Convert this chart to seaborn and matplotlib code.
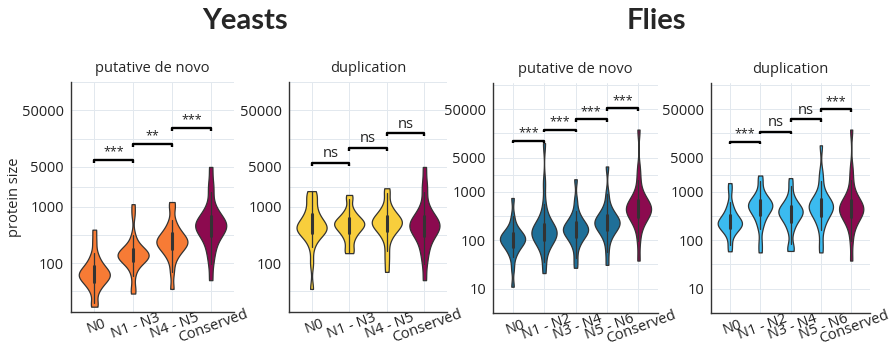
import matplotlib
matplotlib.use("Agg")
import matplotlib.pyplot as plt
import matplotlib.ticker as mticker
import pandas as pd
import seaborn as sns

# x groups
yeast_groups = ["N0", "N1 - N3", "N4 - N5", "Conserved"]
fly_groups = ["N0", "N1 - N2", "N3 - N4", "N5 - N6", "Conserved"]

# protein sizes (approximate quantiles, aa)
yeast_novo_n0 = [17, 19.5, 30, 36.6, 41.8, 46.1, 49.9, 53.3, 56.4, 59.3, 61.9,
                 64.6, 67.9, 72.1, 76.9, 83.2, 91.2, 102, 120, 151, 240, 390]
yeast_novo_n1_n3 = [29, 36, 60, 82, 94, 103, 111, 117, 122, 127, 132, 136,
                    140, 144, 150, 156, 163, 172, 185, 203, 233, 316, 720, 1100]
yeast_novo_n4_n5 = [35, 69, 109, 135, 155, 172, 187, 201, 213, 224, 235,
                    245, 258, 274, 292, 316, 347, 389, 455, 575, 955, 1200]
yeast_dup_n0 = [35, 100, 195, 263, 304, 334, 358, 378, 396, 412, 428, 441,
                462, 499, 546, 601, 676, 776, 923, 1167, 1479, 1660, 1870]
yeast_dup_n1_n3 = [150, 158, 200, 252, 295, 331, 363, 393, 419, 445, 468,
                   487, 506, 529, 555, 589, 631, 688, 774, 923, 1349, 1600]
yeast_dup_n4_n5 = [70, 110, 162, 249, 305, 348, 384, 415, 444, 469, 493, 514,
                   535, 558, 587, 621, 664, 718, 791, 904, 1104, 1698, 2100]
yeast_conserved = [50, 95, 140, 180, 226, 269, 305, 337, 367, 394, 422, 446,
                   468, 492, 522, 557, 603, 661, 741, 867, 1096, 1820, 2600, 5000]

fly_novo_n0 = [11, 26, 44, 55, 65, 72, 79, 86, 92, 97, 102,
               107, 111, 116, 123, 131, 141, 154, 175, 211, 316, 740]
fly_novo_n1_n2 = [21, 35, 59, 74, 87, 98, 107, 116, 124, 131, 138,
                  145, 152, 161, 172, 186, 204, 229, 268, 339, 562, 1500, 10000]
fly_novo_n3_n4 = [27, 42, 69, 87, 102, 115, 126, 136, 145, 154, 162,
                  170, 179, 190, 202, 219, 240, 269, 315, 398, 661, 1800]
fly_novo_n5_n6 = [31, 58, 95, 121, 141, 158, 174, 188, 200, 213, 224,
                  234, 247, 262, 279, 302, 331, 372, 435, 550, 912, 3300]
fly_dup_n0 = [59, 81, 119, 142, 159, 174, 186, 198, 207, 217, 225,
              235, 248, 265, 285, 310, 344, 390, 463, 600, 1047, 1500]
fly_dup_n1_n2 = [56, 89, 168, 225, 274, 316, 355, 391, 424, 457, 487,
                 511, 533, 561, 593, 634, 685, 757, 863, 1054, 1622, 2150]
fly_dup_n3_n4 = [60, 62, 83, 145, 188, 223, 254, 281, 305, 328, 351, 371,
                 388, 406, 429, 454, 488, 530, 587, 676, 836, 1318, 1900]
fly_dup_n5_n6 = [56, 85, 160, 215, 262, 302, 339, 374, 405, 437, 465,
                 489, 512, 540, 571, 614, 667, 740, 851, 1052, 1660, 2500, 9000]
fly_conserved = [38, 95, 167, 216, 256, 291, 322, 351, 377, 403, 426,
                 447, 470, 499, 532, 575, 631, 708, 828, 1047, 1738, 3000, 19000]

# significance brackets (height, label)
yeast_novo_brackets = [6700, 12900, 24800]
yeast_novo_labels = ["***", "**", "***"]
yeast_dup_brackets = [5900, 11000, 19500]
yeast_dup_labels = ["ns", "ns", "ns"]
fly_novo_brackets = [11100, 18900, 30700, 52000]
fly_novo_labels = ["***", "***", "***", "***"]
fly_dup_brackets = [10600, 17300, 30700, 50000]
fly_dup_labels = ["***", "ns", "ns", "***"]

yeast_ticks = [100, 1000, 5000, 50000]
fly_ticks = [10, 100, 1000, 5000, 50000]

conserved_col = "#8c0a4f"


def long_frame(groups, values):
    rows = []
    for g, v in zip(groups, values):
        rows += [(g, x) for x in v]
    return pd.DataFrame(rows, columns=["age", "size"])


sns.set_style("white")
plt.rcParams["font.family"] = ["Open Sans", "DejaVu Sans"]

W, H = 893, 352
fig = plt.figure(figsize=(W / 100, H / 100), dpi=100)

panels = [
    (yeast_groups, [yeast_novo_n0, yeast_novo_n1_n3, yeast_novo_n4_n5, yeast_conserved], "#f77b35",
     yeast_novo_brackets, yeast_novo_labels, "putative de novo", (71, 234), (82, 312), (13.7, 156000), yeast_ticks),
    (yeast_groups, [yeast_dup_n0, yeast_dup_n1_n3, yeast_dup_n4_n5, yeast_conserved], "#f8ce3c",
     yeast_dup_brackets, yeast_dup_labels, "duplication", (289, 447), (82, 312), (13.7, 156000), yeast_ticks),
    (fly_groups, [fly_novo_n0, fly_novo_n1_n2, fly_novo_n3_n4, fly_novo_n5_n6, fly_conserved], "#1f6f98",
     fly_novo_brackets, fly_novo_labels, "putative de novo", (493, 658), (83, 313), (6.4, 173000), fly_ticks),
    (fly_groups, [fly_dup_n0, fly_dup_n1_n2, fly_dup_n3_n4, fly_dup_n5_n6, fly_conserved], "#3bbbf0",
     fly_dup_brackets, fly_dup_labels, "duplication", (711, 870), (83, 313), (6.4, 173000), fly_ticks),
]

for k, (groups, vals, col, brs, labs, title, xs, ys, ylim, ticks) in enumerate(panels):
    ax = fig.add_axes([xs[0] / W, 1 - ys[1] / H, (xs[1] - xs[0]) / W, (ys[1] - ys[0]) / H])
    df = long_frame(groups, vals)
    pal = {g: col for g in groups}
    pal["Conserved"] = conserved_col
    sns.violinplot(data=df, x="age", y="size", hue="age", order=groups, hue_order=groups,
                   palette=pal, legend=False, log_scale=True, cut=0, density_norm="width",
                   width=0.8, linewidth=0.9, linecolor="#333333", bw_adjust=0.6, saturation=1,
                   inner="box", inner_kws=dict(box_width=2.2, whis_width=0.9, marker=""), ax=ax)
    n = len(groups)
    off = 0.6 if n == 4 else 0.62
    ax.set_xlim(-off, n - 1 + off)
    ax.set_ylim(*ylim)
    ax.set_yticks(ticks)
    ax.yaxis.set_major_formatter(mticker.FixedFormatter([str(t) for t in ticks]))
    minors = [(ticks[i] * ticks[i + 1]) ** 0.5 for i in range(len(ticks) - 1)]
    minors = [ticks[0] / 10 ** 0.5] + minors + [ticks[-1] * 10 ** 0.5]
    ax.set_yticks(minors, minor=True)
    ax.yaxis.set_minor_formatter(mticker.NullFormatter())
    ax.tick_params(axis="y", which="minor", length=0)
    ax.tick_params(axis="both", which="major", length=3, width=0.8, color="#333333",
                   labelsize=10.5, labelcolor="#222222", pad=2)
    ax.set_xticks(range(n))
    ax.set_xticklabels(groups, rotation=20, ha="center", va="top", rotation_mode="anchor")
    ax.grid(True, which="both", color="#e2e8ee", lw=0.7)
    ax.set_axisbelow(True)
    for s in ["top", "right"]:
        ax.spines[s].set_visible(False)
    for s in ["left", "bottom"]:
        ax.spines[s].set_color("#333333")
        ax.spines[s].set_linewidth(1)
    ax.set_xlabel("")
    ax.set_ylabel("protein size" if k == 0 else "", fontsize=10.5, labelpad=0)
    ax.set_title(title, fontsize=10.5, pad=7)

    for i, (yv, lab) in enumerate(zip(brs, labs)):
        ax.plot([i, i, i + 1, i + 1], [yv / 1.13, yv, yv, yv / 1.13], color="black", lw=1.7,
                solid_capstyle="butt", clip_on=False)
        ax.text(i + 0.5, yv * 1.06, lab, ha="center", va="bottom",
                fontsize=9 if "*" in lab else 10.5, color="#222222")

fig.text(245 / W, 1 - 21 / H, "Yeasts", ha="center", va="center", fontsize=21,
         fontweight="bold", family="Lato")
fig.text(656 / W, 1 - 21 / H, "Flies", ha="center", va="center", fontsize=21,
         fontweight="bold", family="Lato")

fig.savefig("out.png", dpi=100)
